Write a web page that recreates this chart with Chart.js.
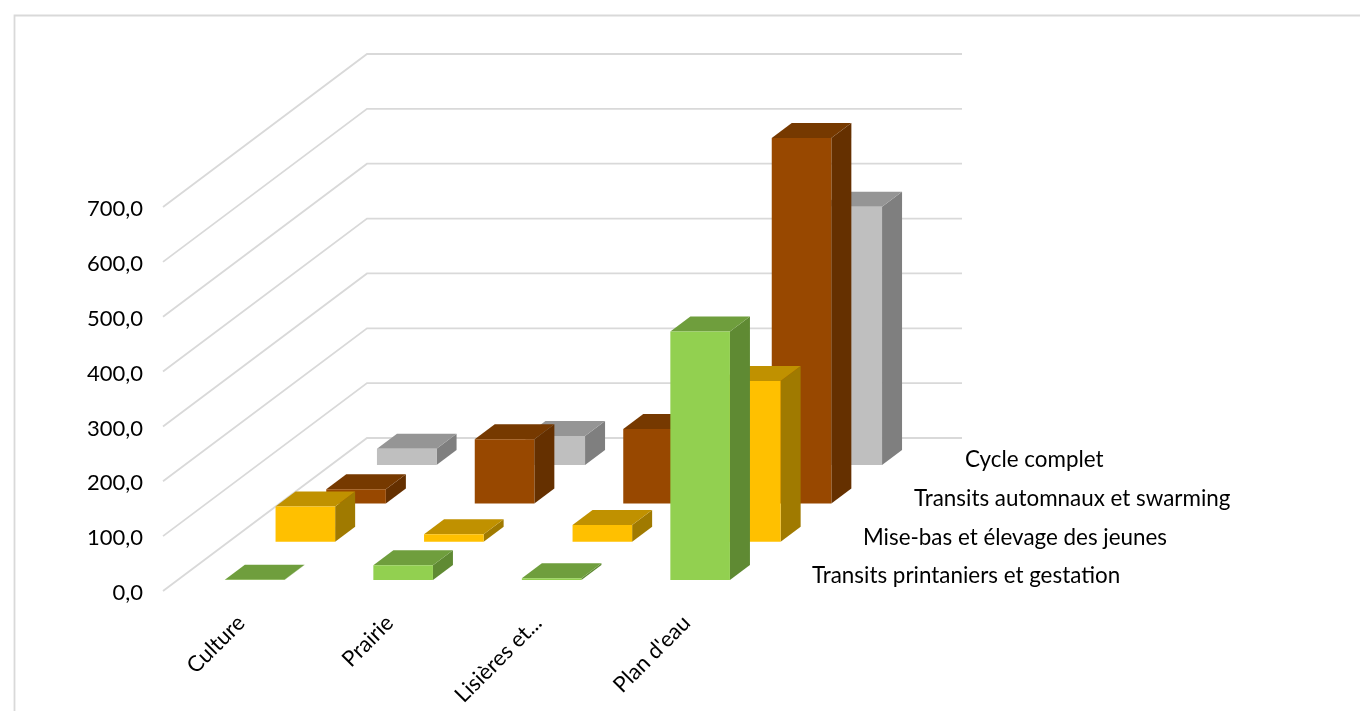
<!DOCTYPE html>
<html lang="fr">
<head>
<meta charset="utf-8">
<title>Graphique 3D</title>
<script src="https://cdn.jsdelivr.net/npm/chart.js@4"></script>
<style>
    html, body { margin: 0; padding: 0; background: #fff; overflow: hidden; }
    canvas { display: block; }
</style>
</head>
<body>
<canvas id="chart" width="1360" height="711"></canvas>
<script>
const categories = ['Culture', 'Prairie', 'Lisières et...', "Plan d'eau"];
const seriesNames = ['Transits printaniers et gestation', 'Mise-bas et élevage des jeunes', 'Transits automnaux et swarming', 'Cycle complet'];

const printemps = [0.5, 27, 3, 453];
const miseBas = [64, 13.5, 30.5, 293];
const automne = [26, 117, 135.5, 666];
const cycleComplet = [30, 53, 40, 471];

const frontColors = ['#92d050', '#ffc000', '#984800', '#bfbfbf'];
const topColors = ['#6f9e3d', '#c09100', '#763900', '#959595'];
const sideColors = ['#5f8a33', '#a07a00', '#653000', '#7f7f7f'];

const FONT = 'Lato';
const GRID = '#d9d9d9';

// profondeur du mur de gauche, puis decalage de chaque rangee
const WALL_X = 204, WALL_Y = 153, WALL_W = 595;
const ROW_X0 = 17.4, ROW_Y0 = 11, ROW_DX = 50.7, ROW_DY = 38.3;
const BAR_DX = 20, BAR_DY = 15;

function poly(ctx, color, pts) {
    ctx.fillStyle = color;
    ctx.beginPath();
    pts.forEach((p, i) => i ? ctx.lineTo(p[0], p[1]) : ctx.moveTo(p[0], p[1]));
    ctx.closePath();
    ctx.fill();
}

const decor3d = {
    id: 'decor3d',
    beforeDatasetsDraw(chart) {
        const ctx = chart.ctx;
        const yScale = chart.scales.y;
        const left = chart.chartArea.left;
        ctx.save();

        // cadre
        ctx.strokeStyle = GRID;
        ctx.lineWidth = 1.8;
        ctx.beginPath();
        ctx.moveTo(14.5, 711);
        ctx.lineTo(14.5, 15.5);
        ctx.lineTo(1360, 15.5);
        ctx.stroke();

        // grille : mur de gauche + mur du fond
        yScale.ticks.forEach(t => {
            const y = yScale.getPixelForValue(t.value);
            ctx.beginPath();
            ctx.moveTo(left, y);
            ctx.lineTo(left + WALL_X, y - WALL_Y);
            ctx.lineTo(left + WALL_X + WALL_W, y - WALL_Y);
            ctx.stroke();
        });

        // noms des series sur l'axe de profondeur
        ctx.fillStyle = '#000';
        ctx.font = '22.4px ' + FONT;
        ctx.textAlign = 'left';
        ctx.textBaseline = 'middle';
        seriesNames.forEach((name, i) => {
            ctx.fillText(name, 812 + 51 * i, 576 - 38.7 * i);
        });
        ctx.restore();
    },
    beforeDatasetDraw(chart, args) {
        const ctx = chart.ctx;
        const i = args.index;
        const ox = ROW_X0 + ROW_DX * i;
        const oy = ROW_Y0 + ROW_DY * i;
        ctx.save();
        args.meta.data.forEach(bar => {
            const x0 = bar.x - bar.width / 2 + ox;
            const x1 = bar.x + bar.width / 2 + ox;
            const top = bar.y - oy;
            const base = bar.base - oy;
            poly(ctx, sideColors[i], [[x1, top], [x1 + BAR_DX, top - BAR_DY], [x1 + BAR_DX, base - BAR_DY], [x1, base]]);
            poly(ctx, topColors[i], [[x0, top], [x0 + BAR_DX, top - BAR_DY], [x1 + BAR_DX, top - BAR_DY], [x1, top]]);
            poly(ctx, frontColors[i], [[x0, top], [x1, top], [x1, base], [x0, base]]);
        });
        ctx.restore();
        return false;
    }
};

new Chart(document.getElementById('chart').getContext('2d'), {
    type: 'bar',
    data: {
        labels: categories,
        datasets: [printemps, miseBas, automne, cycleComplet].map((values, i) => ({
            label: seriesNames[i],
            data: values,
            backgroundColor: frontColors[i],
            grouped: false,
            barPercentage: 0.4013,
            categoryPercentage: 1
        }))
    },
    options: {
        responsive: false,
        animation: false,
        layout: { padding: { top: 207, right: 603, bottom: 0, left: 0 } },
        plugins: { legend: { display: false }, tooltip: { enabled: false } },
        scales: {
            x: {
                afterFit(scale) { scale.height = 120; },
                border: { display: false },
                grid: { display: false, drawTicks: false },
                ticks: {
                    autoSkip: false,
                    minRotation: 45,
                    maxRotation: 45,
                    padding: 19,
                    labelOffset: 4,
                    color: '#000',
                    font: { family: FONT, size: 22 }
                }
            },
            y: {
                min: 0,
                max: 700,
                afterFit(scale) { scale.width = 163; },
                border: { display: false },
                grid: { display: false, drawTicks: false },
                ticks: {
                    stepSize: 100,
                    padding: 20,
                    labelOffset: 2,
                    color: '#000',
                    font: { family: FONT, size: 22 },
                    callback: v => v.toFixed(1).replace('.', ',')
                }
            }
        }
    },
    plugins: [decor3d]
});
</script>
</body>
</html>
